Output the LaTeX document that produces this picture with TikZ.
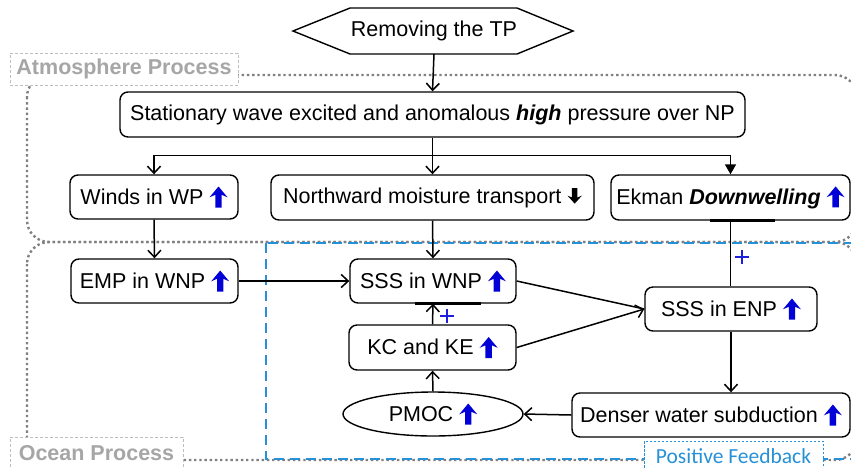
\documentclass[tikz,border=0pt]{standalone}
\usepackage{fontspec}
\setmainfont{Liberation Sans}
\newfontfamily\feedbackfont{Carlito}
\usetikzlibrary{arrows.meta,calc,shapes.geometric}

\definecolor{markblue}{RGB}{0,0,215}
\definecolor{plusblue}{RGB}{30,30,225}
\definecolor{fbblue}{RGB}{38,145,215}
\definecolor{procgrey}{RGB}{128,128,128}
\definecolor{labelgrey}{RGB}{166,166,166}
\definecolor{labelframe}{RGB}{190,190,190}

% bold trend arrows placed after the box texts
\newcommand\blueup{\tikz[baseline=0pt,x=1pt,y=1pt,yshift=7.2pt,sharp corners]
  \fill[markblue, sharp corners] (-3.2,-10.5) -- (-3.2,2.2) -- (-9,-0.3) -- (0,10.5) -- (9,-0.3) -- (3.2,2.2) -- (3.2,-10.5) -- cycle;}
\newcommand\blackdown{\tikz[baseline=0pt,x=0.8pt,y=-0.74pt,yshift=7.2pt,sharp corners]
  \fill[black, sharp corners] (-3.4,-10.5) -- (-3.4,2.2) -- (-9,-0.3) -- (0,10.5) -- (9,-0.3) -- (3.4,2.2) -- (3.4,-10.5) -- cycle;}

\begin{document}
\begin{tikzpicture}[x=1pt,y=-1pt,
  font=\fontsize{21.5}{24}\selectfont,
  box/.style={draw, rounded corners=8pt, line width=1.4pt, fill=white,
    inner sep=0pt, minimum height=44pt},
  oval/.style={draw, ellipse, line width=1.4pt, fill=white, inner sep=0pt,
    minimum width=180pt, minimum height=44pt},
  conn/.style={line width=1.5pt},
  arr/.style={conn, -{Straight Barb[length=7pt,width=13pt,line width=1.5pt]}},
  arrfill/.style={conn, -{Triangle[length=10pt,width=11pt]}},
  bar/.style={line width=3pt},
  procline/.style={procgrey, line width=2.4pt, dash pattern=on 2.4pt off 2.8pt,
    rounded corners=22pt},
  feedbackline/.style={fbblue, line width=2pt, dash pattern=on 10pt off 6pt},
  proclabel/.style={draw=labelframe, line width=0.9pt, dash pattern=on 3pt off 2pt,
    fill=white, text=labelgrey, font=\fontsize{21.5}{24}\selectfont\bfseries,
    inner sep=0pt, minimum height=32pt},
  fblabel/.style={draw=fbblue, line width=0.9pt, dash pattern=on 2.5pt off 1.5pt,
    fill=white, text=fbblue, font=\fontsize{21.5}{24}\selectfont\feedbackfont,
    inner sep=0pt, minimum height=30pt},
  plusmark/.style={minimum size=14pt, inner sep=0pt,
    path picture={\draw[plusblue, line width=2.6pt]
      (path picture bounding box.north) -- (path picture bounding box.south)
      (path picture bounding box.west) -- (path picture bounding box.east);}}
]
\fill[white] (0,0) rectangle (851,467);
\useasboundingbox (0,0) rectangle (851,467);
\clip (0,0) rectangle (851,467);

% process regions
\draw[procline] (27,75) rectangle (857,242);
\draw[procline] (27,242) rectangle (857,460);
\draw[feedbackline] (266,243) rectangle (880,459);

\node[proclabel, minimum width=228pt] (atm) at (124,69) {Atmosphere Process};
\node[proclabel, minimum width=173pt] (ocean) at (96.5,453) {Ocean Process};
\node[fblabel, minimum width=179pt] (fb) at (733.5,456) {Positive Feedback};

% starting point
\node (tp) at (434,31) {Removing the TP};
\draw[line width=1.4pt] ($(tp)+(-141,0)$) -- ($(tp)+(-84,-23)$) -- ($(tp)+(83,-23)$)
  -- ($(tp)+(139,0)$) -- ($(tp)+(83,23)$) -- ($(tp)+(-84,23)$) -- cycle;
\coordinate (tpbottom) at ($(tp)+(0,23)$);

% atmosphere boxes
\node[box, minimum width=625pt, minimum height=45pt] (stat) at (432.5,114.5)
  {Stationary wave excited and anomalous \textbf{\textit{high}} pressure over NP};
\node[box, minimum width=168pt] (winds) at (154,197) {Winds in WP \blueup};
\node[box, minimum width=323pt, minimum height=45pt] (north) at (432.5,197.5)
  {Northward moisture transport \blackdown};
\node[box, minimum width=239pt, minimum height=45pt] (ekman) at (730.5,197.5)
  {Ekman \textbf{\textit{Downwelling}} \blueup};

% ocean boxes
\node[box, minimum width=167pt] (emp) at (154.5,281) {EMP in WNP \blueup};
\node[box, minimum width=166pt] (wnp) at (433,281) {SSS in WNP \blueup};
\node[box, minimum width=167pt, minimum height=45pt] (kc) at (432.5,347.5) {KC and KE \blueup};
\node[box, minimum width=172pt] (enp) at (731,309) {SSS in ENP \blueup};
\node[oval] (pmoc) at (433,414) {PMOC \blueup};
\node[box, minimum width=278pt] (dense) at (711,415) {Denser water subduction \blueup};

% connectors
\draw[arr] (tpbottom) -- (stat.north);
\draw[conn] (stat.south) -- ++(0,18) coordinate (split);
\draw[arr] (split) -| (winds.north);
\draw[arr] (split) -- (north.north);
\draw[arrfill] (split) -| (ekman.north);
\draw[arr] (winds.south) -- (emp.north);
\draw[arr] (north.south) -- (wnp.north);
\draw[arr] (emp.east) -- (wnp.west);
\draw[conn] (ekman.south) -- (ekman.south |- enp.north);
\draw[conn] (wnp.east) -- (enp.west);
\draw[arr] (kc.east) -- (enp.west);
\draw[arr] (enp.south) -- (enp.south |- dense.north);
\draw[arr] (dense.west) -- (pmoc.east);
\draw[arr] (pmoc.north) -- (kc.south);
\draw[arr] (kc.north) -- (wnp.south);

% positive-effect markers
\draw[bar] ($(wnp.south)+(-18,0)$) -- ($(wnp.south)+(48,0)$);
\draw[bar] ($(ekman.south)+(-20.5,0)$) -- ($(ekman.south)+(44.5,0)$);
\node[plusmark] (plusA) at (447,316) {};
\node[plusmark] (plusB) at (742,257) {};
\end{tikzpicture}
\end{document}
